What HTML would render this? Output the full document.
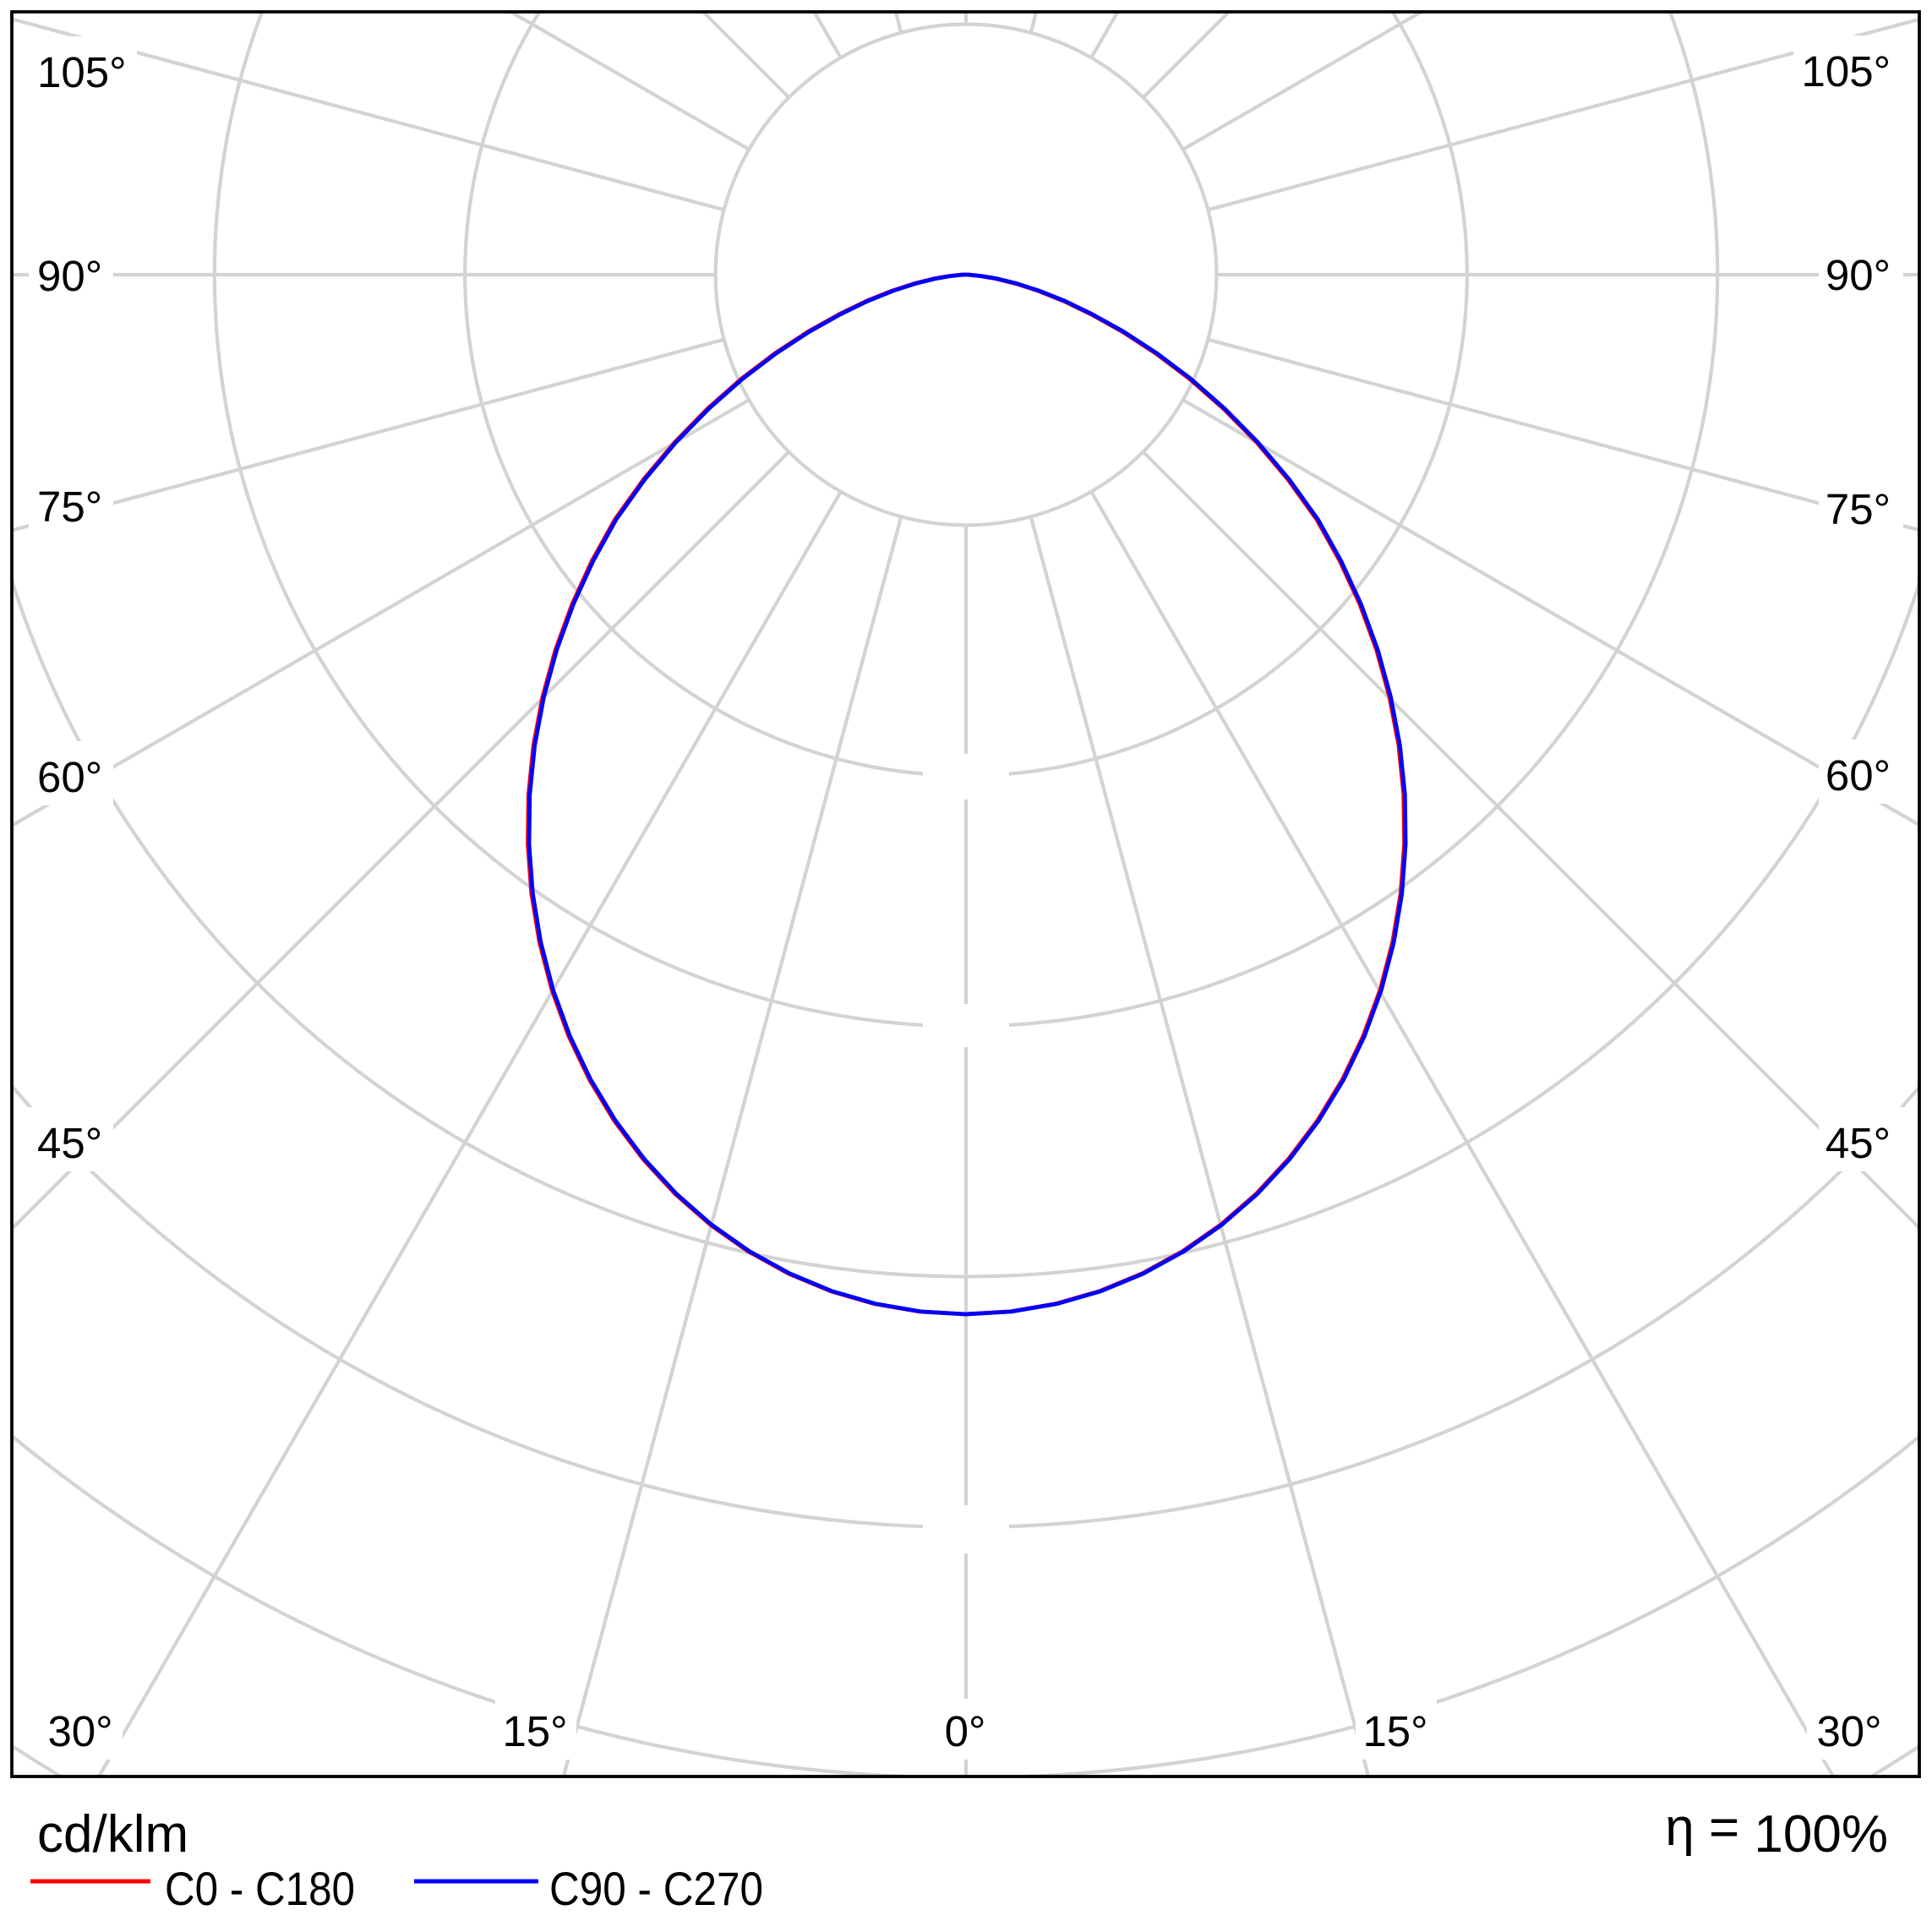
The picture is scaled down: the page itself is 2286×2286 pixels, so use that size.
<!DOCTYPE html>
<html><head><meta charset="utf-8"><style>html,body{margin:0;padding:0;background:#fff;width:2286px;height:2286px;overflow:hidden;}svg{display:block;overflow:hidden}</style></head>
<body>
<svg width="2286" height="2286" viewBox="0 0 2286 2286" xmlns="http://www.w3.org/2000/svg">
<defs><clipPath id="c"><rect x="14" y="14" width="2257" height="2088"/></clipPath></defs>
<rect width="2286" height="2286" fill="#fff"/>
<g clip-path="url(#c)">
<g stroke="#d3d3d3" stroke-width="4.2" fill="none">
<circle cx="1143" cy="325" r="296.4"/>
<path d="M638.3,14 A592.8,592.8 0 1 0 1647.7,14"/>
<path d="M310,14 A889.2,889.2 0 1 0 1976,14"/>
<path d="M14,686.9 A1185.6,1185.6 0 0 0 2271,690"/>
<path d="M14,1285 A1482,1482 0 0 0 2271,1286.2"/>
<path d="M14,1699.1 A1778.4,1778.4 0 0 0 1072.4,2102"/>
<path d="M1213.6,2102 A1778.4,1778.4 0 0 0 2271,1699.9"/>
<path d="M14,2065.7 A2074.8,2074.8 0 0 0 72,2102"/>
<path d="M2214,2102 A2074.8,2074.8 0 0 0 2271,2066.4"/>
<line x1="1143" y1="621.4" x2="1143" y2="2102"/>
<line x1="1066.3" y1="611.3" x2="666.8" y2="2102"/>
<line x1="1219.7" y1="611.3" x2="1619.2" y2="2102"/>
<line x1="994.8" y1="581.7" x2="117" y2="2102"/>
<line x1="1291.2" y1="581.7" x2="2169" y2="2102"/>
<line x1="933.4" y1="534.6" x2="14" y2="1454"/>
<line x1="1352.6" y1="534.6" x2="2271" y2="1453"/>
<line x1="886.3" y1="473.2" x2="14" y2="976.8"/>
<line x1="1399.7" y1="473.2" x2="2271" y2="976.2"/>
<line x1="856.7" y1="401.7" x2="14" y2="627.5"/>
<line x1="1429.3" y1="401.7" x2="2271" y2="627.2"/>
<line x1="846.6" y1="325" x2="14" y2="325"/>
<line x1="1439.4" y1="325" x2="2271" y2="325"/>
<line x1="856.7" y1="248.3" x2="14" y2="22.5"/>
<line x1="1429.3" y1="248.3" x2="2271" y2="22.8"/>
<line x1="886.3" y1="176.8" x2="604.3" y2="14"/>
<line x1="1399.7" y1="176.8" x2="1681.7" y2="14"/>
<line x1="933.4" y1="115.4" x2="832" y2="14"/>
<line x1="1352.6" y1="115.4" x2="1454" y2="14"/>
<line x1="994.8" y1="68.3" x2="963.4" y2="14"/>
<line x1="1291.2" y1="68.3" x2="1322.6" y2="14"/>
<line x1="1066.3" y1="38.7" x2="1059.7" y2="14"/>
<line x1="1219.7" y1="38.7" x2="1226.3" y2="14"/>
<line x1="1143" y1="28.6" x2="1143" y2="14"/>
</g>
<g fill="#fff">
<rect x="34" y="43" width="128" height="76"/>
<rect x="34" y="284" width="100" height="76"/>
<rect x="34" y="557" width="100" height="76"/>
<rect x="34" y="877" width="100" height="76"/>
<rect x="34" y="1310" width="100" height="76"/>
<rect x="2122" y="42" width="130" height="76"/>
<rect x="2152" y="283" width="100" height="76"/>
<rect x="2152" y="560" width="100" height="76"/>
<rect x="2152" y="875" width="100" height="76"/>
<rect x="2152" y="1310" width="100" height="76"/>
<rect x="45" y="2010" width="100" height="72"/>
<rect x="586" y="2010" width="96" height="72"/>
<rect x="1105" y="2010" width="74" height="72"/>
<rect x="1604" y="2010" width="96" height="72"/>
<rect x="2138" y="2010" width="100" height="72"/>
<rect x="1092" y="892" width="102" height="54"/>
<rect x="1092" y="1188" width="102" height="51"/>
<rect x="1092" y="1781" width="102" height="57"/>
</g>
</g>
<g font-family="'Liberation Sans', sans-serif" font-size="51" fill="#000">
<text x="44" y="103">105°</text>
<text x="44" y="344">90°</text>
<text x="44" y="617">75°</text>
<text x="44" y="937">60°</text>
<text x="44" y="1370">45°</text>
<g text-anchor="end">
<text x="2237" y="102">105°</text>
<text x="2237" y="343">90°</text>
<text x="2237" y="620">75°</text>
<text x="2237" y="935">60°</text>
<text x="2237" y="1370">45°</text>
</g>
<g text-anchor="middle">
<text x="95" y="2066">30°</text>
<text x="633" y="2066">15°</text>
<text x="1142" y="2066">0°</text>
<text x="1651" y="2066">15°</text>
<text x="2188" y="2066">30°</text>
</g>
</g>
<g fill="none" stroke-width="4.8" stroke-linejoin="round" stroke-linecap="round">
<polyline transform="translate(-1.5,0)" stroke="#ff0000" points="1143,1555 1089.4,1551.9 1036.4,1542.8 984.6,1527.8 934.6,1507 886.8,1480.6 841.8,1449 800.1,1412.4 762.2,1371.3 728.3,1326.1 698.9,1277.4 674.2,1225.6 654.4,1171.2 639.8,1114.9 630.3,1057.2 626,998.7 626.8,940.1 632.7,881.9 643.5,824.5 658.8,768.7 678.4,714.9 702,663.4 728.9,614.9 763.2,566.9 800.1,523 838.8,483.4 878.6,448.3 918.5,418 957.7,392.4 994.5,371.8 1026.8,356.1 1056.7,344.1 1083.3,335.5 1106.2,329.8 1124.6,326.6 1137.4,325.2 1143,325 1148.6,325.2 1161.5,326.6 1180,329.8 1203.1,335.5 1229.8,344.1 1259.9,356.1 1292.4,371.8 1329.4,392.4 1368.8,418 1409,448.3 1449,483.4 1488,523 1525.1,566.9 1559.6,614.9 1586.6,663.4 1610.4,714.9 1630.1,768.7 1645.5,824.5 1656.4,881.9 1662.3,940.1 1663.1,998.7 1658.8,1057.2 1649.2,1114.9 1634.5,1171.2 1614.6,1225.6 1589.8,1277.4 1560.2,1326.1 1526.1,1371.3 1488,1412.4 1446,1449 1400.7,1480.6 1352.7,1507 1302.4,1527.8 1250.2,1542.8 1196.9,1551.9 1143,1555"/>
<polyline stroke="#0000ff" points="1143,1555 1089.4,1551.9 1036.4,1542.8 984.6,1527.8 934.6,1507 886.8,1480.6 841.8,1449 800.1,1412.4 762.2,1371.3 728.3,1326.1 698.9,1277.4 674.2,1225.6 654.4,1171.2 639.8,1114.9 630.3,1057.2 626,998.7 626.8,940.1 632.7,881.9 643.5,824.5 658.8,768.7 678.4,714.9 702,663.4 728.9,614.9 763.2,566.9 800.1,523 838.8,483.4 878.6,448.3 918.5,418 957.7,392.4 994.5,371.8 1026.8,356.1 1056.7,344.1 1083.3,335.5 1106.2,329.8 1124.6,326.6 1137.4,325.2 1143,325 1148.6,325.2 1161.5,326.6 1180,329.8 1203.1,335.5 1229.8,344.1 1259.9,356.1 1292.4,371.8 1329.4,392.4 1368.8,418 1409,448.3 1449,483.4 1488,523 1525.1,566.9 1559.6,614.9 1586.6,663.4 1610.4,714.9 1630.1,768.7 1645.5,824.5 1656.4,881.9 1662.3,940.1 1663.1,998.7 1658.8,1057.2 1649.2,1114.9 1634.5,1171.2 1614.6,1225.6 1589.8,1277.4 1560.2,1326.1 1526.1,1371.3 1488,1412.4 1446,1449 1400.7,1480.6 1352.7,1507 1302.4,1527.8 1250.2,1542.8 1196.9,1551.9 1143,1555"/>
</g>
<rect x="14" y="14" width="2257" height="2088" fill="none" stroke="#000" stroke-width="3.8"/>
<g font-family="'Liberation Sans', sans-serif" fill="#000">
<text x="44" y="2191" font-size="62">cd/klm</text>
<text x="2234" y="2191" font-size="62" text-anchor="end"><tspan dy="-8">η =</tspan><tspan dy="8"> 100%</tspan></text>
<line x1="36" y1="2226" x2="178" y2="2226" stroke="#ff0000" stroke-width="5"/>
<text x="195" y="2254" font-size="56" textLength="225" lengthAdjust="spacingAndGlyphs">C0 - C180</text>
<line x1="490" y1="2226" x2="637" y2="2226" stroke="#0000ff" stroke-width="5"/>
<text x="650" y="2254" font-size="56" textLength="253" lengthAdjust="spacingAndGlyphs">C90 - C270</text>
</g>
</svg>
</body></html>
